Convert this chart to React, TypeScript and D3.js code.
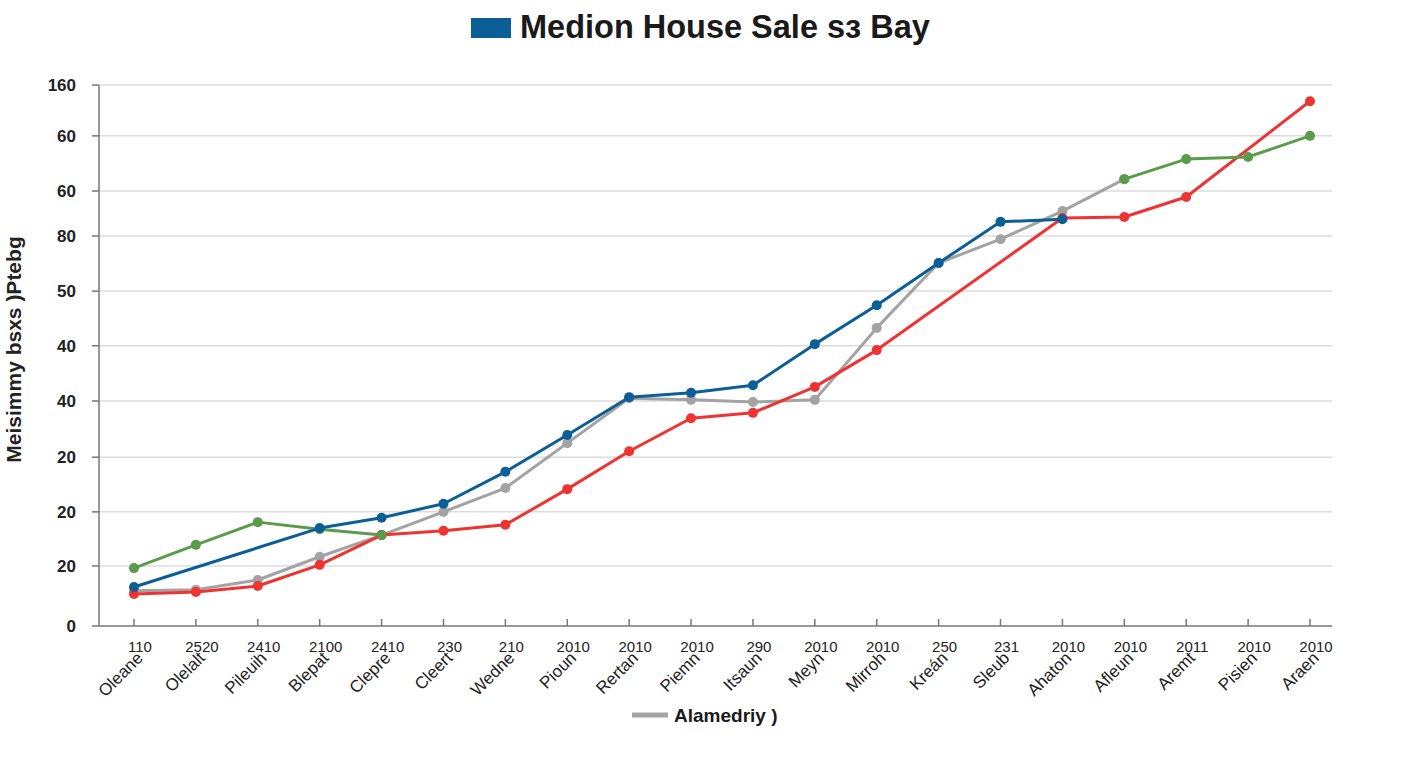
import * as d3 from 'd3';

const categories = [
  'Oleane', 'Olelalt', 'Pileuih', 'Blepat', 'Clepre', 'Cleert', 'Wedne', 'Pioun', 'Rertan', 'Piemn',
  'Itsaun', 'Meyn', 'Mirroh', 'Kreán', 'Sleub', 'Ahaton', 'Afleun', 'Aremt', 'Pisien', 'Araen',
];
const yearLabels = [
  '110', '2520', '2410', '2100', '2410', '230', '210', '2010', '2010', '2010',
  '290', '2010', '2010', '250', '231', '2010', '2010', '2011', '2010', '2010',
];

// tick positions on the value axis and the (odd) labels printed at them
const yTickValues = [0, 11.1, 21.1, 31.2, 41.6, 51.8, 61.9, 72.1, 80.4, 90.6, 100];
const yTickLabels = ['0', '20', '20', '20', '40', '40', '50', '80', '60', '60', '160'];

type V = number | null;

const grayValues: V[] = [6.5, 6.7, 8.5, 12.8, 16.8, 21.1, 25.5, 33.8, 42.1, 41.8, 41.4, 41.8, 55.1, 67.1, 71.5, 76.7, 82.6, null, null, null];
const redValues: V[] = [5.9, 6.3, 7.4, 11.3, 16.8, 17.6, 18.7, 25.3, 32.3, 38.4, 39.4, 44.2, 51.0, null, null, 75.4, 75.6, 79.3, null, 97.0];
const greenValues: V[] = [10.7, 15.0, 19.2, 17.9, 16.8, null, null, null, null, null, null, null, null, null, null, null, 82.6, 86.3, 86.7, 90.6];
const blueValues: V[] = [7.2, null, null, 18.1, 20.0, 22.6, 28.5, 35.3, 42.3, 43.1, 44.5, 52.1, 59.3, 67.1, 74.7, 75.2, null, null, null, null];

const titleText = 'Medion House Sale sз Bay';
const yAxisTitle = 'Meisimmy bsxs )Ptebg';
const legendLabel = 'Alamedriy )';

// connect: bridge over missing points; otherwise the line breaks there
const series = [
  { name: 'gray', values: grayValues, color: '#a3a3a3', connect: true },
  { name: 'red', values: redValues, color: '#ee3333', connect: true },
  { name: 'green', values: greenValues, color: '#5a9c4c', connect: false },
  { name: 'blue', values: blueValues, color: '#0b5e96', connect: true },
];

export default function App() {
  const width = 1408;
  const height = 768;
  const marginTop = 85;
  const marginRight = 76;
  const marginBottom = 142;
  const marginLeft = 99;

  const x = d3
    .scalePoint<string>()
    .domain(categories)
    .range([marginLeft + 35, width - marginRight - 22]);
  const y = d3.scaleLinear([0, 100], [height - marginBottom, marginTop]);

  const line = d3
    .line<[string, V]>()
    .defined((d) => d[1] !== null)
    .x((d) => x(d[0]) as number)
    .y((d) => y(d[1] as number));

  const font = 'Arial, "Liberation Sans", sans-serif';

  return (
    <svg
      width={width}
      height={height}
      style={{ position: 'absolute', left: 0, top: 0, background: '#fff' }}
      fontFamily={font}
    >
      {/* title */}
      <rect x={471} y={18} width={40} height={20} fill="#0b5e96" />
      <text x={520} y={38} fontSize={32.5} fontWeight="bold" fill="#1a1a1a">
        {titleText}
      </text>

      {/* grid */}
      <g stroke="#dcdcdc" strokeWidth={1.5}>
        {yTickValues.slice(1).map((v, i) => (
          <line key={i} x1={marginLeft} x2={width - marginRight} y1={y(v)} y2={y(v)} />
        ))}
      </g>

      {/* y axis */}
      <g>
        <line x1={marginLeft} x2={marginLeft} y1={y(100)} y2={y(0)} stroke="#777" strokeWidth={1.5} />
        {yTickValues.map((v, i) => (
          <g key={i} transform={`translate(0,${y(v)})`}>
            <line x1={marginLeft - 7} x2={marginLeft} stroke="#777" strokeWidth={1.5} />
            <text x={76} dy="0.35em" textAnchor="end" fontSize={17} fontWeight="bold" fill="#222">
              {yTickLabels[i]}
            </text>
          </g>
        ))}
      </g>
      <text
        transform={`translate(21,${(marginTop + height - marginBottom) / 2 - 6}) rotate(-90)`}
        textAnchor="middle"
        fontSize={21}
        fontWeight="bold"
        fill="#222"
      >
        {yAxisTitle}
      </text>

      {/* x axis */}
      <g>
        <line
          x1={marginLeft}
          x2={width - marginRight}
          y1={y(0)}
          y2={y(0)}
          stroke="#777"
          strokeWidth={1.5}
        />
        {categories.map((c, i) => {
          const cx = x(c) as number;
          return (
            <g key={c}>
              <line x1={cx} x2={cx} y1={y(0)} y2={y(0) - 7} stroke="#777" strokeWidth={1.5} />
              <text x={cx + 6} y={y(0) + 26} textAnchor="middle" fontSize={15} fill="#222">
                {yearLabels[i]}
              </text>
              <text
                transform={`translate(${cx + 10},${y(0) + 33}) rotate(-45)`}
                textAnchor="end"
                fontSize={17}
                fill="#222"
              >
                {c}
              </text>
            </g>
          );
        })}
      </g>

      {/* series */}
      {series.map((s) => {
        const all = s.values.map((v, i) => [categories[i], v] as [string, V]);
        const pts = all.filter((d) => d[1] !== null);
        return (
          <g key={s.name}>
            <path
              d={line(s.connect ? pts : all) ?? ''}
              fill="none"
              stroke={s.color}
              strokeWidth={3}
              strokeLinejoin="round"
            />
            {pts.map((d, i) => (
              <circle key={i} cx={x(d[0])} cy={y(d[1] as number)} r={5} fill={s.color} />
            ))}
          </g>
        );
      })}

      {/* legend */}
      <line x1={632} x2={668} y1={715} y2={715} stroke="#a3a3a3" strokeWidth={5} />
      <text x={674} y={722} fontSize={19} fontWeight="bold" fill="#1a1a1a">
        {legendLabel}
      </text>
    </svg>
  );
}
